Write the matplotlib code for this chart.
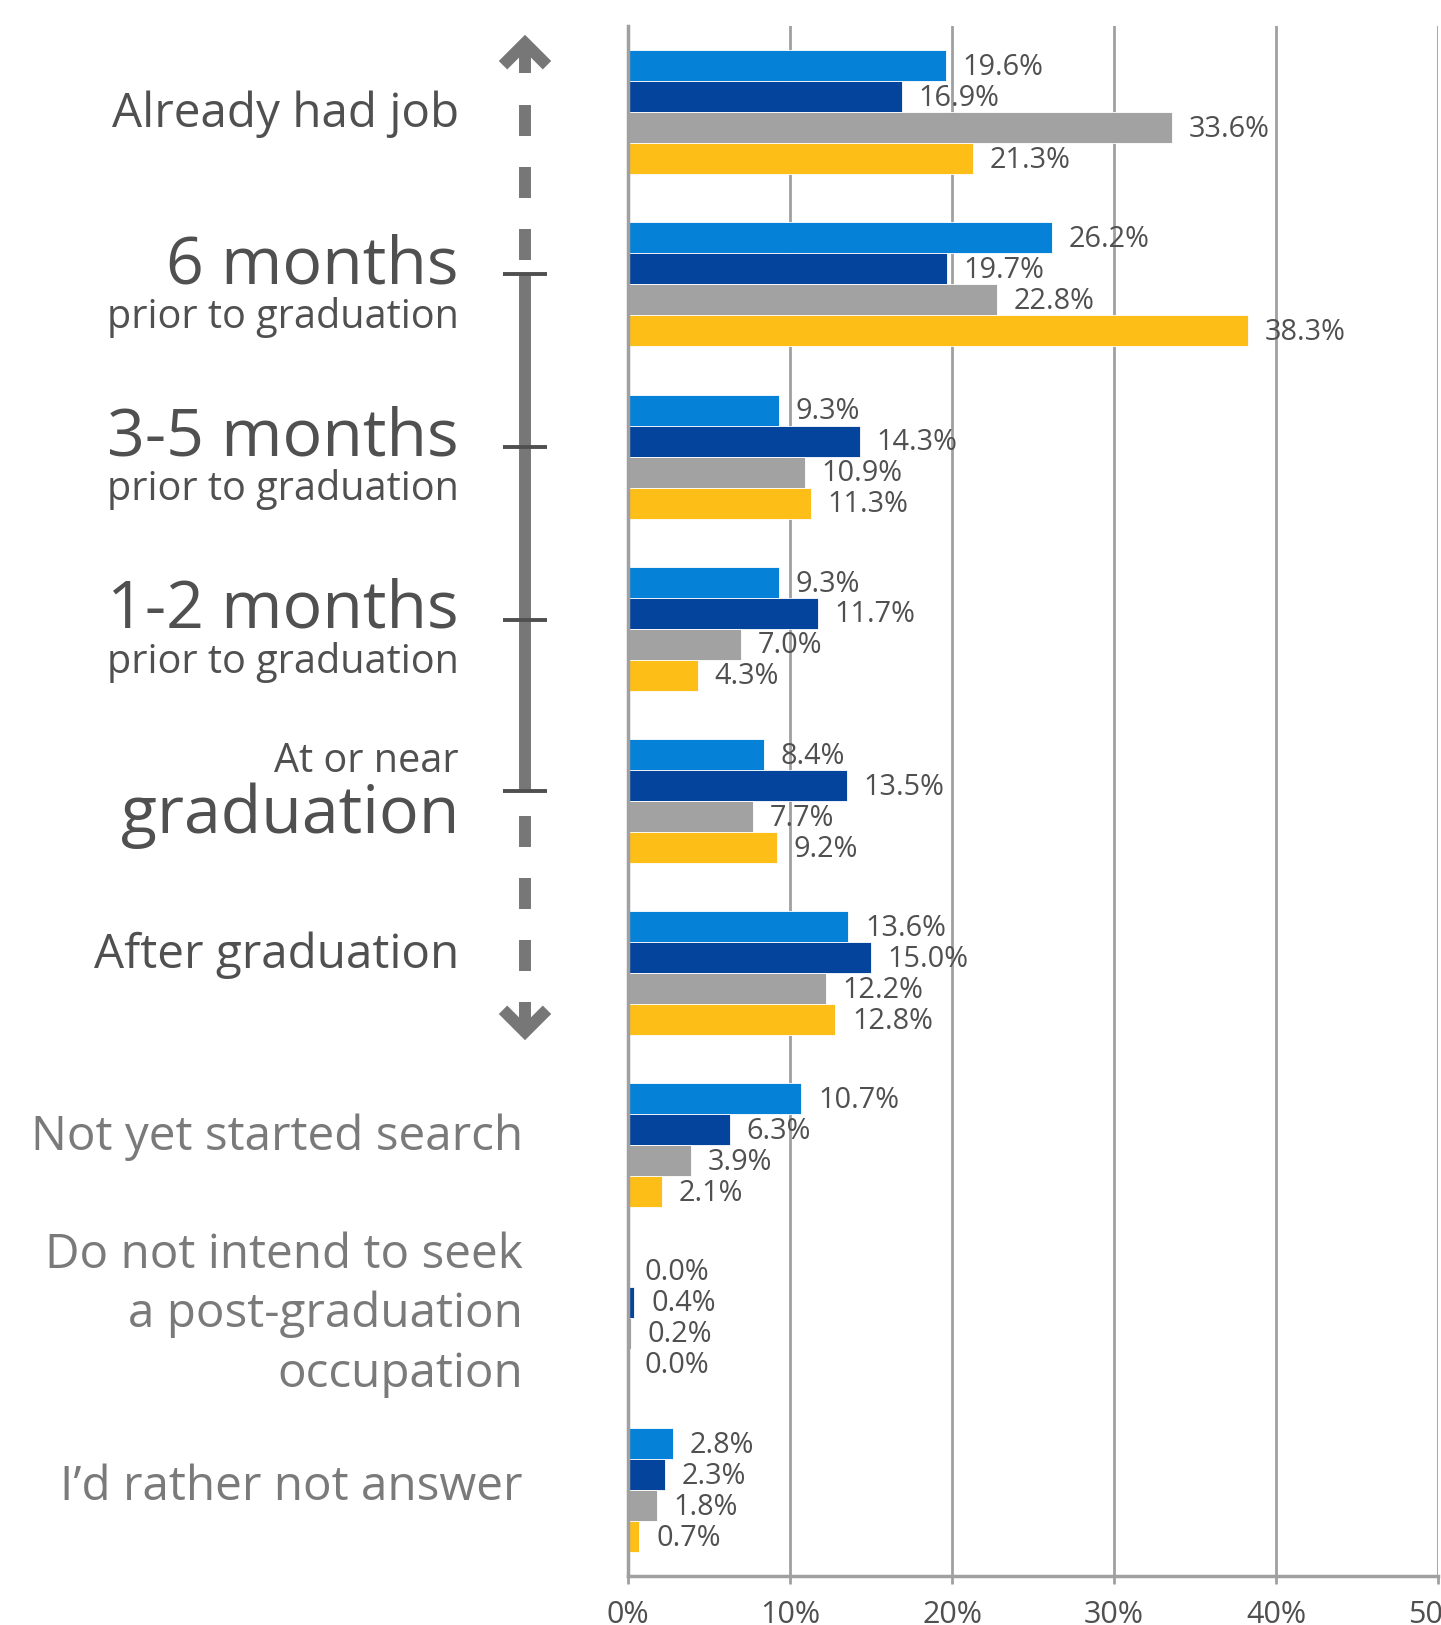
import numpy as np
import matplotlib.pyplot as plt
import matplotlib as mpl

mpl.rcParams['font.family'] = ['Open Sans', 'DejaVu Sans']

# data (percent)
categories = ["Already had job", "6 months", "3-5 months", "1-2 months",
              "At or near graduation", "After graduation",
              "Not yet started search", "Do not intend to seek",
              "I'd rather not answer"]
series_a = [19.6, 26.2, 9.3, 9.3, 8.4, 13.6, 10.7, 0.0, 2.8]
series_b = [16.9, 19.7, 14.3, 11.7, 13.5, 15.0, 6.3, 0.4, 2.3]
series_c = [33.6, 22.8, 10.9, 7.0, 7.7, 12.2, 3.9, 0.2, 1.8]
series_d = [21.3, 38.3, 11.3, 4.3, 9.2, 12.8, 2.1, 0.0, 0.7]
xticks = [0, 10, 20, 30, 40, 50]
xticklabels = ["0%", "10%", "20%", "30%", "40%", "50%"]

colors = ['#0681D8', '#04449C', '#A2A2A2', '#FEBE18']
dark = '#505050'
light = '#7A7A7A'
grid = '#A0A0A0'

W, H = 1441, 1625
fig = plt.figure(figsize=(W / 100, H / 100), dpi=100)

bottom = 1 - 1576 / H
top = 1 - 26 / H
left = 628 / W
ax = fig.add_axes([left, bottom, 1438 / W - left, top - bottom])

y = np.arange(len(categories))
bh = 0.18
allseries = [series_a, series_b, series_c, series_d]
for i, vals in enumerate(allseries):
    pos = y + (i - 1.5) * bh
    ax.barh(pos, vals, height=bh, color=colors[i], edgecolor='white',
            linewidth=0.6, zorder=2)
    for p, v in zip(pos, vals):
        ax.annotate("{:.1f}%".format(v), (v, p + 0.01), xytext=(12, 0),
                    textcoords='offset points', va='center', ha='left',
                    fontsize=20.8, color=dark, zorder=4)

ax.set_ylim(len(categories) - 0.5, -0.5)
ax.set_xlim(0, 50)
ax.set_yticks([])
ax.set_xticks(xticks)
ax.set_xticklabels(xticklabels)
ax.tick_params(axis='x', length=6, width=2, color=grid, pad=11,
               labelsize=22, labelcolor=dark)
ax.xaxis.grid(True, color=grid, linewidth=2, zorder=1)
ax.set_axisbelow(True)
for s in ['top', 'right']:
    ax.spines[s].set_visible(False)
ax.spines['left'].set_color(grid)
ax.spines['left'].set_linewidth(2.5)
ax.spines['bottom'].set_color(grid)
ax.spines['bottom'].set_linewidth(2.5)

# left side: category labels and timeline arrow, in pixel x units
la = fig.add_axes([0, bottom, left, top - bottom])
la.set_xlim(0, 628)
la.set_ylim(len(categories) - 0.5, -0.5)
la.axis('off')

xr1 = 459   # right edge of timeline labels
xr2 = 523   # right edge of other labels
big = 47.7
mid = 34.3
small = 28.5

la.text(xr1, 0.087, "Already had job", ha='right', va='baseline', fontsize=mid, color=dark)
for g, txt in [(1, "6 months"), (2, "3-5 months"), (3, "1-2 months")]:
    la.text(xr1, g - 0.005, txt, ha='right', va='baseline', fontsize=big, color=dark)
    la.text(xr1, g + 0.255, "prior to graduation", ha='right', va='baseline',
            fontsize=small, color=dark)
la.text(xr1, 3.83, "At or near", ha='right', va='baseline', fontsize=small, color=dark)
la.text(xr1, 4.186, "graduation", ha='right', va='baseline', fontsize=big, color=dark)
la.text(xr1, 4.97, "After graduation", ha='right', va='baseline', fontsize=mid, color=dark)

la.text(xr2, 6.026, "Not yet started search", ha='right', va='baseline',
        fontsize=mid, color=light)
for k, txt in enumerate(["Do not intend to seek", "a post-graduation", "occupation"]):
    la.text(xr2, 6.71 + k * 0.345, txt, ha='right', va='baseline',
            fontsize=mid, color=light)
la.text(xr2, 8.06, "I\u2019d rather not answer", ha='right', va='baseline',
        fontsize=mid, color=light)

# timeline arrow
ax_c = 525
lw = 8.6
acol = '#777777'
la.plot([ax_c, ax_c], [0.94, 3.94], color=acol, lw=lw, solid_capstyle='butt')
for a, b in [(-0.04, 0.14), (0.32, 0.50), (0.68, 0.86),
             (4.09, 4.27), (4.45, 4.63), (4.81, 4.99)]:
    la.plot([ax_c, ax_c], [a, b], color=acol, lw=lw, solid_capstyle='butt')
# arrow heads
u = 1 / 172.25
la.plot([ax_c, ax_c], [-0.40, -0.226], color=acol, lw=lw, solid_capstyle='butt')
la.plot([ax_c - 22, ax_c, ax_c + 22], [-0.40 + 22 * u, -0.40, -0.40 + 22 * u],
        color=acol, lw=lw, solid_capstyle='butt', solid_joinstyle='miter')
la.plot([ax_c, ax_c], [5.17, 5.34], color=acol, lw=lw, solid_capstyle='butt')
la.plot([ax_c - 22, ax_c, ax_c + 22], [5.34 - 22 * u, 5.34, 5.34 - 22 * u],
        color=acol, lw=lw, solid_capstyle='butt', solid_joinstyle='miter')
for g in [0.94, 1.945, 2.95, 3.94]:
    la.plot([ax_c - 22, ax_c + 22], [g, g], color='#4F4F4F', lw=2.8,
            solid_capstyle='butt')

fig.savefig("out.png", dpi=100)
